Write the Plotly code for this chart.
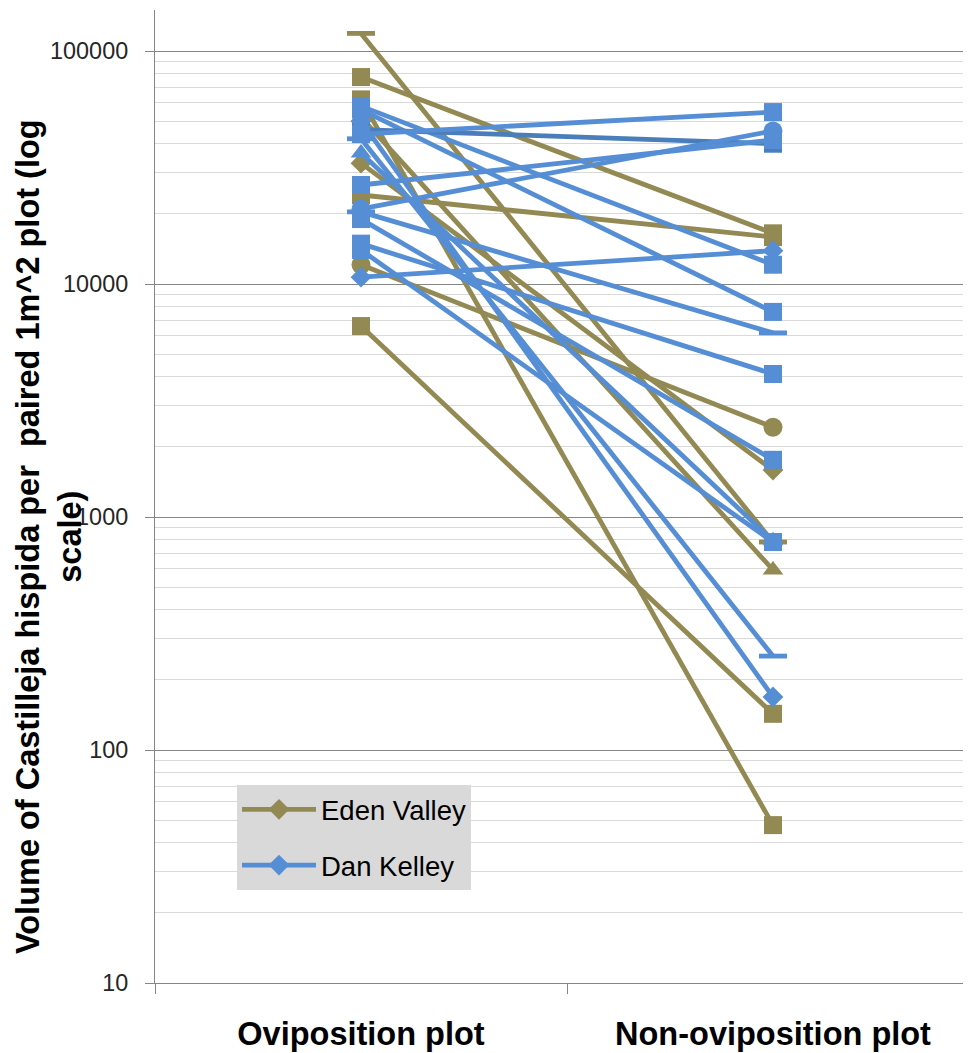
import plotly.graph_objects as go

# ---------------- data ----------------
categories = ["Oviposition plot", "Non-oviposition plot"]

# Eden Valley pairs (oviposition, non-oviposition)
eden_ovi = [119000, 77300, 62000, 52000, 33000, 24100, 12100, 6600]
eden_non = [781, 16500, 47.6, 593, 1590, 15900, 2430, 143]

# Dan Kelley pairs (oviposition, non-oviposition)
dan_ovi = [58000, 56000, 46000, 44000, 36500, 26600, 21000, 20400, 14900, 14000, 10700, 42000, 50000, 19000]
dan_non = [12100, 7590, 40000, 54700, 790, 41500, 45400, 6170, 4110, 781, 13900, 253, 169, 1760]

series_names = ["Eden Valley", "Dan Kelley"]
y_tickvals = [10, 100, 1000, 10000, 100000]
y_ticktext = ["10", "100", "1000", "10000", "100000"]

# ---------------- styles ----------------
OLIVE = "#938953"
BLUE = "#558ED5"
DARKBLUE = "#4A7EBB"
eden_symbols = ["line-ew", "square", "square", "triangle-up", "diamond", "square", "circle", "square"]
dan_symbols = ["square", "square", "square", "square", "triangle-up", "square", "circle", "line-ew",
               "square", "square", "diamond", "line-ew", "diamond", "square"]
dan_colors = [BLUE, BLUE, DARKBLUE] + [BLUE] * 11
eden_legend_idx = 4
dan_legend_idx = 10

size_map = {"square": 18, "circle": 19, "diamond": 16, "triangle-up": 18, "line-ew": 20}

fig = go.Figure()


def add_pair(v0, v1, sym, color, name, show, group):
    fig.add_trace(go.Scatter(
        x=categories, y=[v0, v1], mode="lines+markers", name=name,
        showlegend=show, legendgroup=group,
        line=dict(color=color, width=4.8),
        marker=dict(symbol=sym, size=size_map[sym], color=color,
                    line=dict(color=color, width=4.8 if sym == "line-ew" else 0)),
        hoverinfo="skip",
    ))


for i, (a, b) in enumerate(zip(eden_ovi, eden_non)):
    add_pair(a, b, eden_symbols[i], OLIVE, series_names[0], i == eden_legend_idx, "eden")
for i, (a, b) in enumerate(zip(dan_ovi, dan_non)):
    add_pair(a, b, dan_symbols[i], dan_colors[i], series_names[1], i == dan_legend_idx, "dan")

minor_vals = [m * 10 ** e for e in range(1, 6) for m in range(2, 10)]

# page has an 8px body margin, so the figure is sized/offset to compensate
FONT = "Liberation Sans"
fig.update_layout(
    width=963, height=1045,
    margin=dict(l=147, r=0, t=2, b=70),
    paper_bgcolor="white", plot_bgcolor="white",
    font=dict(family=FONT, color="#000000"),
    legend=dict(
        x=0.1005, y=0.2035, xanchor="left", yanchor="top",
        bgcolor="#D9D9D9", font=dict(size=27.5, family=FONT, color="#000000"),
        traceorder="grouped", tracegroupgap=17, itemwidth=74,
        borderwidth=0,
    ),
    xaxis=dict(
        type="category", range=[-0.5, 1.4806],
        tickson="boundaries", ticks="outside", ticklen=10, tickcolor="#868686",
        showline=True, linecolor="#868686", linewidth=1.3,
        showgrid=False, zeroline=False, automargin=False,
        tickfont=dict(size=32.5, family=FONT, weight="bold", color="#000000"),
        ticklabelstandoff=22,
    ),
    yaxis=dict(
        type="log", range=[1, 5.176],
        tickvals=y_tickvals, ticktext=y_ticktext,
        ticks="outside", ticklen=9, tickcolor="#868686",
        showline=True, linecolor="#868686", linewidth=1.3,
        showgrid=True, gridcolor="#868686", gridwidth=1.3,
        zeroline=False, automargin=False,
        tickfont=dict(size=23.4, family=FONT, color="#262626"),
        ticklabelstandoff=12,
        minor=dict(tickvals=minor_vals, showgrid=True, gridcolor="#D9D9D9", gridwidth=1.3, ticks=""),
    ),
)

fig.add_annotation(
    xref="paper", yref="paper", x=0, y=(975 - 529) / 973,
    xanchor="center", yanchor="middle", xshift=-106,
    text="Volume of Castilleja hispida per  paired 1m^2 plot (log<br>scale)",
    textangle=-90, showarrow=False,
    font=dict(size=32.5, family=FONT, weight="bold", color="#000000"),
)

fig.write_html("out.html")
